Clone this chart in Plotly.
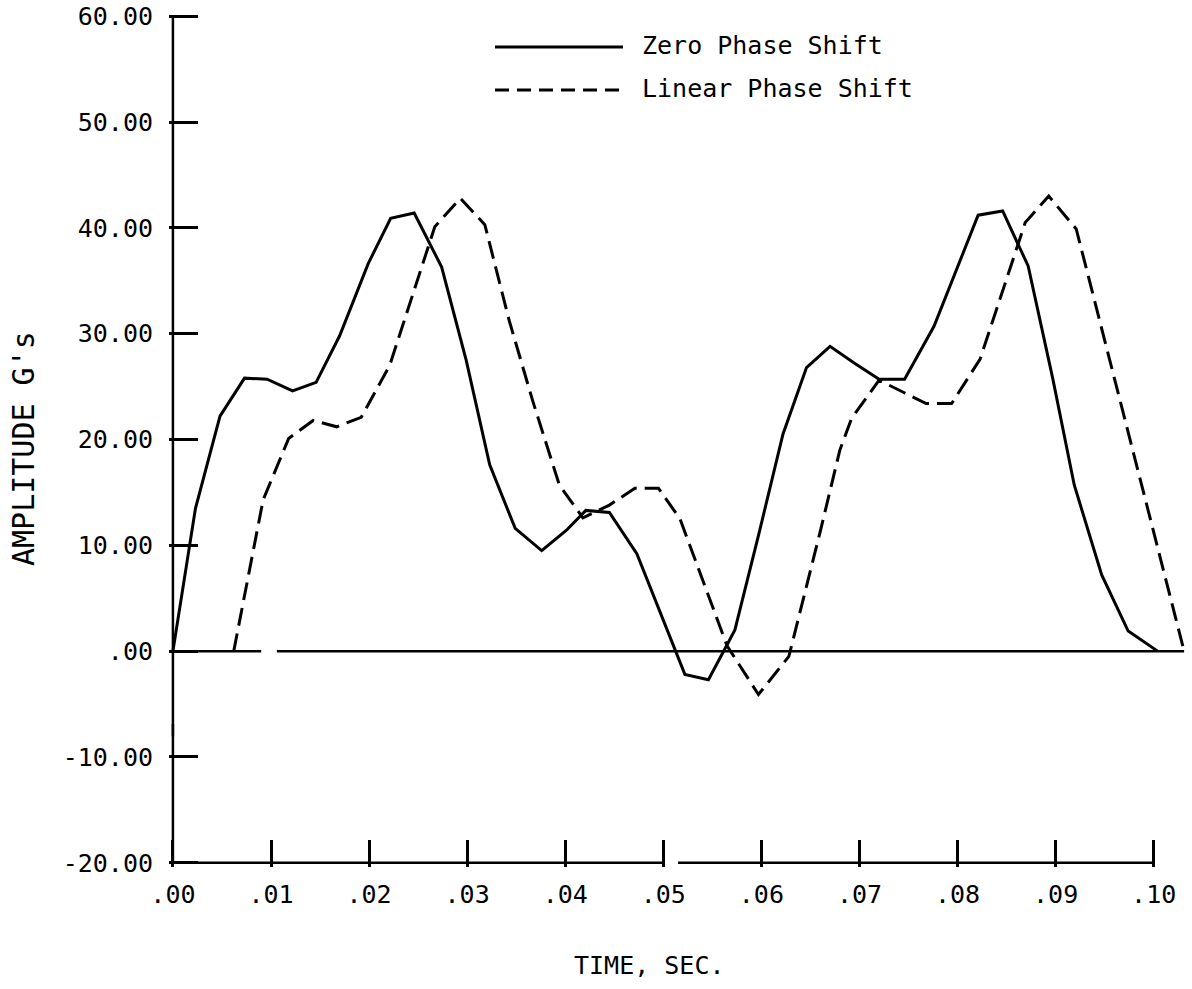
import plotly.graph_objects as go

# ---- data ----
zero_t = [0.0000, 0.0023, 0.0048, 0.0073, 0.0096, 0.0122, 0.0146, 0.0170, 0.0199, 0.0222,
          0.0246, 0.0274, 0.0299, 0.0323, 0.0349, 0.0376, 0.0401, 0.0421, 0.0445, 0.0473,
          0.0522, 0.0546, 0.0565, 0.0573, 0.0598, 0.0622, 0.0646, 0.0670, 0.0695, 0.0720,
          0.0746, 0.0776, 0.0821, 0.0846, 0.0872, 0.0897, 0.0919, 0.0947, 0.0974, 0.1004]
zero_amp = [0.0, 13.5, 22.2, 25.8, 25.7, 24.6, 25.4, 29.8, 36.6, 40.9,
            41.4, 36.3, 27.5, 17.6, 11.6, 9.5, 11.4, 13.3, 13.1, 9.2,
            -2.2, -2.7, 0.6, 2.0, 11.3, 20.5, 26.8, 28.8, 27.2, 25.7,
            25.7, 30.7, 41.2, 41.6, 36.4, 25.8, 15.7, 7.2, 1.9, 0.0]

lin_t = [0.0062, 0.0092, 0.0118, 0.0143, 0.0167, 0.0192, 0.0221, 0.0245, 0.0267, 0.0293,
         0.0318, 0.0343, 0.0367, 0.0394, 0.0418, 0.0445, 0.0471, 0.0495, 0.0517, 0.0565,
         0.0597, 0.0628, 0.0660, 0.0680, 0.0692, 0.0720, 0.0768, 0.0794, 0.0823, 0.0869,
         0.0893, 0.0921, 0.1031]
lin_amp = [0.0, 14.3, 20.1, 21.8, 21.2, 22.1, 27.0, 33.9, 40.1, 42.8,
           40.3, 31.2, 23.6, 15.7, 12.6, 13.8, 15.4, 15.4, 12.5, 0.5,
           -4.1, -0.5, 11.3, 19.0, 22.0, 25.6, 23.4, 23.4, 27.6, 40.5,
           43.0, 39.9, 0.0]

x_ticks = [0.00, 0.01, 0.02, 0.03, 0.04, 0.05, 0.06, 0.07, 0.08, 0.09, 0.10]
x_labels = [".00", ".01", ".02", ".03", ".04", ".05", ".06", ".07", ".08", ".09", ".10"]
y_ticks = [60, 50, 40, 30, 20, 10, 0, -10, -20]
y_labels = ["60.00", "50.00", "40.00", "30.00", "20.00", "10.00", ".00", "-10.00", "-20.00"]

FONT = "DejaVu Sans Mono"

fig = go.Figure()
fig.add_trace(go.Scatter(x=zero_t, y=zero_amp, mode="lines", name="Zero Phase Shift",
                         line=dict(color="black", width=3), showlegend=False))
fig.add_trace(go.Scatter(x=lin_t, y=lin_amp, mode="lines", name="Linear Phase Shift",
                         line=dict(color="black", width=3, dash="18px,8px"), showlegend=False))

axis_line = dict(color="black", width=2.5)
shapes = [
    # y axis (with the scan gap)
    dict(type="line", xref="x", yref="y", x0=0, x1=0, y0=-20, y1=-6.9, line=axis_line),
    dict(type="line", xref="x", yref="y", x0=0, x1=0, y0=-8.05, y1=60, line=axis_line),
    # x axis at -20 (with the scan gap)
    dict(type="line", xref="x", yref="y", x0=0, x1=0.0500, y0=-20, y1=-20, line=axis_line),
    dict(type="line", xref="x", yref="y", x0=0.0515, x1=0.10, y0=-20, y1=-20, line=axis_line),
    # zero baseline
    dict(type="line", xref="x", yref="y", x0=0, x1=0.0090, y0=0, y1=0, line=axis_line),
    dict(type="line", xref="x", yref="y", x0=0.0106, x1=0.1031, y0=0, y1=0, line=axis_line),
]

# custom legend (long line samples as in the original)
W, H, L, T, R, B = 1192, 989, 169, 12, 3, 122
pw, ph = W - L - R, H - T - B
def px(xp):
    return (xp - L) / pw
def py(yp):
    return (H - B - yp) / ph

shapes.append(dict(type="line", xref="paper", yref="paper", x0=px(495), x1=px(623),
                   y0=py(47), y1=py(47), line=dict(color="black", width=3)))
shapes.append(dict(type="line", xref="paper", yref="paper", x0=px(495), x1=px(623),
                   y0=py(90), y1=py(90), line=dict(color="black", width=3, dash="14px,8px")))

annotations = [
    dict(text="Zero Phase Shift", xref="paper", yref="paper", x=px(640), y=py(46),
         xanchor="left", yanchor="middle", showarrow=False, font=dict(family=FONT, size=25, color="black")),
    dict(text="Linear Phase Shift", xref="paper", yref="paper", x=px(640), y=py(89),
         xanchor="left", yanchor="middle", showarrow=False, font=dict(family=FONT, size=25, color="black")),
    dict(text="TIME, SEC.", xref="paper", yref="paper", x=px(649), y=py(965),
         xanchor="center", yanchor="middle", showarrow=False, font=dict(family=FONT, size=25, color="black")),
    dict(text="AMPLITUDE G's", xref="paper", yref="paper", x=px(24), y=py(449), textangle=-90,
         xanchor="center", yanchor="middle", showarrow=False, font=dict(family=FONT, size=30, color="black")),
]

fig.update_layout(
    width=W, height=H,
    margin=dict(l=L, r=R, t=T, b=B, pad=0),
    paper_bgcolor="white", plot_bgcolor="white",
    shapes=shapes, annotations=annotations,
    xaxis=dict(range=[-0.0004, 0.1036], tickmode="array", tickvals=x_ticks, ticktext=x_labels,
               ticks="inside", ticklen=27, tickwidth=2.5, tickcolor="black",
               showline=False, showgrid=False, zeroline=False,
               tickfont=dict(family=FONT, size=25, color="black"), ticklabelstandoff=10),
    yaxis=dict(range=[-20.4, 60.4], tickmode="array", tickvals=y_ticks, ticktext=y_labels,
               ticks="inside", ticklen=29, tickwidth=2.5, tickcolor="black",
               showline=False, showgrid=False, zeroline=False,
               tickfont=dict(family=FONT, size=25, color="black"), ticklabelstandoff=15),
)

fig.write_html("out.html")
